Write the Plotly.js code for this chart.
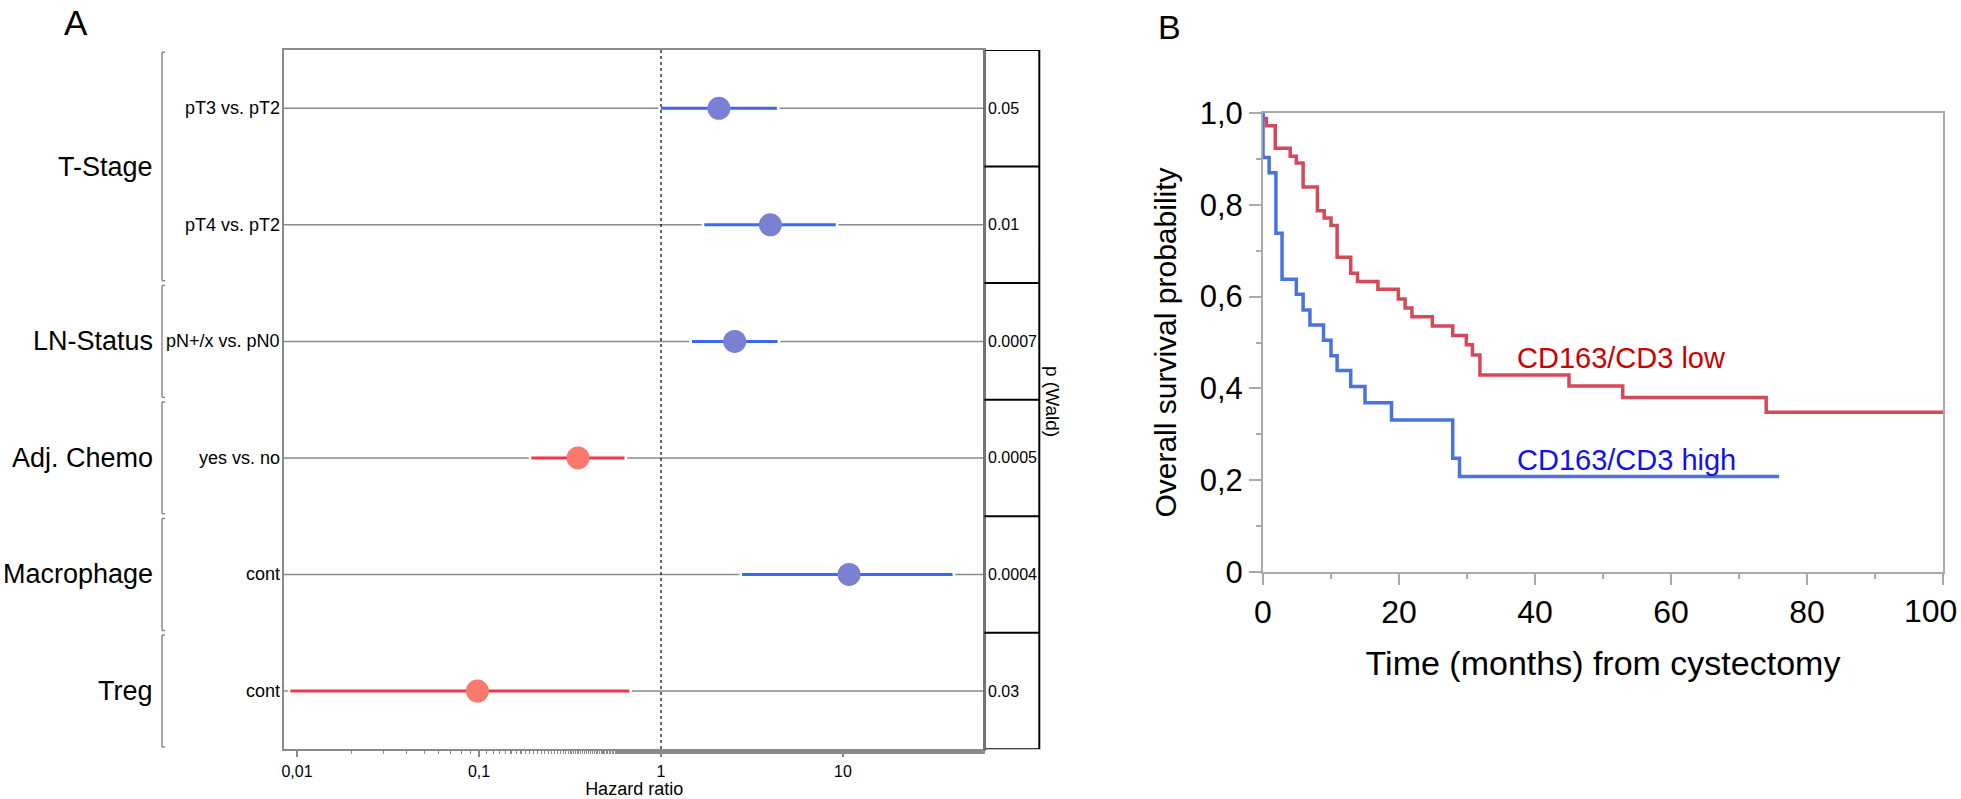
<!DOCTYPE html>
<html>
<head>
<meta charset="utf-8">
<script src="https://cdn.plot.ly/plotly-3.0.1.min.js"></script>
<style>html,body{margin:0;padding:0;background:#fff;}#chart{width:1961px;height:799px;}</style>
</head>
<body>
<div id="chart"></div>
<script>
// ---------- Panel A: forest plot data ----------
const rowLabels = ['pT3 vs. pT2', 'pT4 vs. pT2', 'pN+/x vs. pN0', 'yes vs. no', 'cont', 'cont'];
const hazardRatio = [2.08, 3.99, 2.54, 0.35, 10.8, 0.098];
const ciLow = [1.00, 1.73, 1.48, 0.194, 2.79, 0.0092];
const ciHigh = [4.33, 9.12, 4.37, 0.63, 40, 0.67];
const pValues = ['0.05', '0.01', '0.0007', '0.0005', '0.0004', '0.03'];
const groupNames = ['T-Stage', 'LN-Status', 'Adj. Chemo', 'Macrophage', 'Treg'];
const groupFirstRow = [0, 2, 3, 4, 5];
const groupLastRow = [1, 2, 3, 4, 5];
const hrTickVals = [0.01, 0.1, 1, 10];
const hrTickText = ['0,01', '0,1', '1', '10'];

// ---------- Panel B: Kaplan-Meier data ----------
const lowTime = [0, 0, 0.5, 1.8, 4.0, 4.9, 5.9, 8.0, 9.0, 10.0, 10.9, 12.9, 13.9, 16.9, 19.9, 20.9, 21.9, 24.9, 27.9, 29.9, 30.8, 31.9, 45.0, 52.9, 74.0, 100];
const lowSurv = [1.0, 0.988, 0.972, 0.923, 0.906, 0.891, 0.839, 0.787, 0.771, 0.755, 0.686, 0.651, 0.633, 0.616, 0.595, 0.575, 0.556, 0.536, 0.515, 0.495, 0.473, 0.429, 0.405, 0.380, 0.348, 0.348];
const highTime = [0, 0, 0.9, 1.9, 2.8, 4.9, 5.9, 6.9, 8.9, 10.0, 10.9, 12.9, 15.0, 18.9, 27.9, 28.9, 75.9];
const highSurv = [1.0, 0.903, 0.870, 0.738, 0.638, 0.605, 0.571, 0.538, 0.505, 0.471, 0.439, 0.404, 0.369, 0.331, 0.248, 0.208, 0.208];
const kmTickVals = [0, 0.2, 0.4, 0.6, 0.8, 1.0];
const kmTickText = ['0', '0,2', '0,4', '0,6', '0,8', '1,0'];
const timeTickVals = [0, 20, 40, 60, 80, 100];
const timeTickText = ['0', '20', '40', '60', '80', '100'];

// ---------- layout helpers ----------
const W = 1961, H = 799;
const px = v => v / W;
const py = v => 1 - v / H;
const FONT = 'Liberation Sans, Arial, Helvetica, sans-serif';

const forestDomX = [px(284), px(984.3)];
const forestDomY = [py(749.3), py(50)];
const kmDomX = [px(1263), px(1943)];
const kmDomY = [py(572), py(113)];

const BLUE_LINE = '#3a68ee', BLUE_PT = '#7b80d2';
const RED_LINE = '#ee3747', RED_PT = '#f97a6d';
const GRID_GRAY = '#8a8a8a';

const traces = [];
const rows = rowLabels.map((_, i) => i);

// white gaps at CI ends
rows.forEach(i => {
  traces.push({
    type: 'scatter', mode: 'lines', xaxis: 'x', yaxis: 'y',
    x: [ciLow[i] / 1.035, ciHigh[i] * 1.035], y: [i, i],
    line: {color: '#ffffff', width: 4}, hoverinfo: 'skip', showlegend: false
  });
});
// CI lines
rows.forEach(i => {
  traces.push({
    type: 'scatter', mode: 'lines', xaxis: 'x', yaxis: 'y',
    x: [ciLow[i], ciHigh[i]], y: [i, i],
    line: {color: hazardRatio[i] >= 1 ? BLUE_LINE : RED_LINE, width: 3},
    showlegend: false
  });
});
// HR = 1 reference
traces.push({
  type: 'scatter', mode: 'lines', xaxis: 'x', yaxis: 'y',
  x: [1, 1], y: [-0.5, 5.5],
  line: {color: '#000', width: 1.2, dash: 'dot'}, showlegend: false
});
// points
traces.push({
  type: 'scatter', mode: 'markers', xaxis: 'x', yaxis: 'y',
  x: hazardRatio, y: rows,
  marker: {size: 23, color: hazardRatio.map(v => v >= 1 ? BLUE_PT : RED_PT), line: {width: 0}},
  showlegend: false
});

// KM curves
traces.push({
  type: 'scatter', mode: 'lines', xaxis: 'x2', yaxis: 'y2',
  x: lowTime, y: lowSurv, line: {shape: 'hv', color: '#d6495b', width: 3.5},
  name: 'CD163/CD3 low', showlegend: false
});
traces.push({
  type: 'scatter', mode: 'lines', xaxis: 'x2', yaxis: 'y2',
  x: highTime, y: highSurv, line: {shape: 'hv', color: '#4a72e0', width: 3.5},
  name: 'CD163/CD3 high', showlegend: false
});

// ---------- shapes ----------
const shapes = [];
rows.forEach(i => {
  shapes.push({type: 'line', xref: 'paper', yref: 'y', x0: forestDomX[0], x1: forestDomX[1], y0: i, y1: i,
    line: {color: GRID_GRAY, width: 1.5}, layer: 'below'});
});
shapes.push({type: 'rect', xref: 'paper', yref: 'y', x0: px(984.3), x1: px(1039.3), y0: -0.5, y1: 5.5,
  line: {color: '#000', width: 2}});
shapes.push({type: 'line', xref: 'paper', yref: 'y', x0: px(984.3), x1: px(984.3), y0: -0.5, y1: 5.5,
  line: {color: '#777', width: 2.5}});
rows.slice(1).forEach(i => {
  shapes.push({type: 'line', xref: 'paper', yref: 'y', x0: px(984.3), x1: px(1039.3), y0: i - 0.5, y1: i - 0.5,
    line: {color: '#000', width: 2}});
});
groupNames.forEach((g, k) => {
  const y0 = groupFirstRow[k] - 0.5 + 0.02, y1 = groupLastRow[k] + 0.5 - 0.02;
  const lc = {color: GRID_GRAY, width: 1.5};
  shapes.push({type: 'line', xref: 'paper', yref: 'y', x0: px(162), x1: px(162), y0: y0, y1: y1, line: lc});
  shapes.push({type: 'line', xref: 'paper', yref: 'y', x0: px(162), x1: px(165), y0: y0, y1: y0, line: lc});
  shapes.push({type: 'line', xref: 'paper', yref: 'y', x0: px(162), x1: px(165), y0: y1, y1: y1, line: lc});
});

// ---------- annotations ----------
const annotations = [];
rows.forEach(i => {
  annotations.push({xref: 'paper', yref: 'y', x: px(282), y: i, xanchor: 'right', yanchor: 'middle',
    text: rowLabels[i], showarrow: false, font: {family: FONT, size: 18, color: '#000'}});
  annotations.push({xref: 'paper', yref: 'y', x: px(985.5), y: i, xanchor: 'left', yanchor: 'middle',
    text: pValues[i], showarrow: false, font: {family: FONT, size: 16, color: '#000'}});
});
groupNames.forEach((g, k) => {
  annotations.push({xref: 'paper', yref: 'y', x: px(155), y: (groupFirstRow[k] + groupLastRow[k]) / 2,
    xanchor: 'right', yanchor: 'middle', text: g, showarrow: false,
    font: {family: FONT, size: 27, color: '#000'}});
});
annotations.push({xref: 'paper', yref: 'paper', x: px(1052), y: py(401), text: 'p (Wald)', textangle: 90,
  showarrow: false, xanchor: 'center', yanchor: 'middle', font: {family: FONT, size: 19, color: '#000'}});
annotations.push({xref: 'paper', yref: 'paper', x: px(76), y: py(1), text: 'A', showarrow: false,
  xanchor: 'center', yanchor: 'top', font: {family: FONT, size: 35, color: '#000'}});
annotations.push({xref: 'paper', yref: 'paper', x: px(1169), y: py(27), text: 'B', showarrow: false,
  xanchor: 'center', yanchor: 'middle', font: {family: FONT, size: 34, color: '#000'}});
annotations.push({xref: 'x2', yref: 'y2', x: 37.0, y: 0.466, text: 'CD163/CD3 low', showarrow: false,
  xanchor: 'left', yanchor: 'middle', font: {family: FONT, size: 29, color: '#cc0000'}});
annotations.push({xref: 'x2', yref: 'y2', x: 37.0, y: 0.244, text: 'CD163/CD3 high', showarrow: false,
  xanchor: 'left', yanchor: 'middle', font: {family: FONT, size: 29, color: '#1010f0'}});
// last time tick label, kept fully inside the page (it sits at the right page edge in the reference)
const lastTick = timeTickText.length - 1;
annotations.push({xref: 'paper', yref: 'paper', x: px(1959), y: py(611), text: timeTickText[lastTick],
  showarrow: false, xanchor: 'right', yanchor: 'middle', font: {family: FONT, size: 32, color: '#000'}});
const shownTimeText = timeTickText.map((t, i) => i === lastTick ? '' : t);

const forestRange = [(284 - 661) / 182, (984.3 - 661) / 182];

const layout = {
  width: W, height: H,
  margin: {l: 0, r: 0, t: 0, b: 0},
  paper_bgcolor: '#fff', plot_bgcolor: 'rgba(0,0,0,0)',
  font: {family: FONT, color: '#000'},
  showlegend: false,
  xaxis: {
    domain: forestDomX, anchor: 'y', type: 'log', range: forestRange,
    tickmode: 'array', tickvals: hrTickVals, ticktext: hrTickText,
    ticks: 'outside', ticklen: 6, tickwidth: 1.5, tickcolor: GRID_GRAY,
    minor: {ticks: 'outside', ticklen: 3, tickwidth: 1.2, tickcolor: GRID_GRAY, showgrid: false},
    showline: true, linecolor: GRID_GRAY, linewidth: 2, mirror: true,
    showgrid: false, zeroline: false,
    tickfont: {family: FONT, size: 16, color: '#000'},
    title: {text: 'Hazard ratio', font: {family: FONT, size: 18, color: '#000'}, standoff: 4},
    automargin: false
  },
  yaxis: {
    domain: forestDomY, anchor: 'x', range: [5.5, -0.5],
    showticklabels: false, ticks: '', showgrid: false, zeroline: false,
    showline: true, linecolor: GRID_GRAY, linewidth: 2, mirror: true, automargin: false
  },
  xaxis2: {
    domain: kmDomX, anchor: 'y2', range: [0, 100],
    tickmode: 'array', tickvals: timeTickVals, ticktext: shownTimeText,
    ticks: 'outside', ticklen: 11, tickwidth: 2, tickcolor: '#aaaaaa',
    minor: {ticks: 'outside', dtick: 10, ticklen: 5, tickwidth: 2, tickcolor: '#aaaaaa', showgrid: false},
    showline: true, linecolor: '#aaaaaa', linewidth: 2, mirror: true,
    showgrid: false, zeroline: false,
    tickfont: {family: FONT, size: 32, color: '#000'},
    title: {text: 'Time (months) from cystectomy', font: {family: FONT, size: 34, color: '#000'}, standoff: 22},
    automargin: false
  },
  yaxis2: {
    domain: kmDomY, anchor: 'x2', range: [0, 1],
    tickmode: 'array', tickvals: kmTickVals, ticktext: kmTickText,
    ticks: 'outside', ticklen: 12, tickwidth: 2, tickcolor: '#aaaaaa',
    minor: {ticks: 'outside', dtick: 0.1, ticklen: 5, tickwidth: 2, tickcolor: '#aaaaaa', showgrid: false},
    showline: true, linecolor: '#aaaaaa', linewidth: 2, mirror: true,
    showgrid: false, zeroline: false,
    tickfont: {family: FONT, size: 31, color: '#000'},
    title: {text: 'Overall survival probability', font: {family: FONT, size: 30, color: '#000'}, standoff: 14},
    automargin: false
  },
  shapes: shapes,
  annotations: annotations
};

Plotly.newPlot('chart', traces, layout, {displayModeBar: false, staticPlot: true});
</script>
</body>
</html>
